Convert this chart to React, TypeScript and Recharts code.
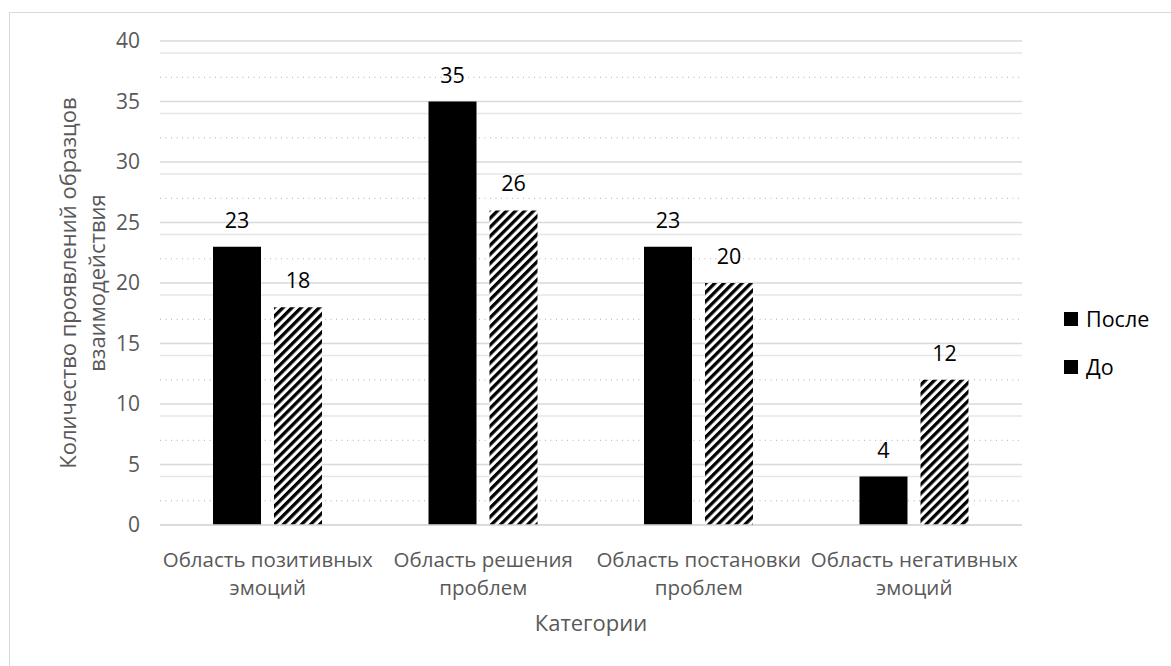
import { Bar, BarChart, CartesianGrid, LabelList, XAxis, YAxis } from "recharts";

const categoryLine1 = ["Область позитивных", "Область решения", "Область постановки", "Область негативных"];
const categoryLine2 = ["эмоций", "проблем", "проблем", "эмоций"];
const afterValues = [23, 35, 23, 4];
const beforeValues = [18, 26, 20, 12];
const yTicks = [0, 5, 10, 15, 20, 25, 30, 35, 40];
const minorSolid = [3, 4, 8, 9, 13, 14, 18, 19, 23, 24, 28, 29, 33, 34, 38, 39];
const minorDotted = [1, 2, 6, 7, 11, 12, 16, 17, 21, 22, 26, 27, 31, 32, 36, 37];

const data = categoryLine1.map((c, i) => ({
  name: c + " " + categoryLine2[i],
  after: afterValues[i],
  before: beforeValues[i],
}));

const FONT = "'Open Sans', sans-serif";
const GRAY = "#595959";

const CategoryTick = (props: any) => {
  const { x, y, index } = props;
  return (
    <text x={x} y={y} textAnchor="middle" fill={GRAY} fontSize={20.5} fontFamily={FONT}>
      <tspan x={x} dy={34}>{categoryLine1[index]}</tspan>
      <tspan x={x} dy={28}>{categoryLine2[index]}</tspan>
    </text>
  );
};

const YTitle = () => {
  const cx = 76;
  const cy = 283;
  return (
    <text transform={`rotate(-90, ${cx}, ${cy})`} x={cx} y={cy} textAnchor="middle" fill={GRAY} fontSize={22} fontFamily={FONT}>
      <tspan x={cx} dy={0}>Количество проявлений образцов</tspan>
      <tspan x={cx} dy={29}>взаимодействия</tspan>
    </text>
  );
};

export default function App() {
  return (
    <div style={{ position: "fixed", left: 0, top: 0, width: 1171, height: 666, overflow: "hidden", background: "#fff", fontFamily: FONT }}>
      <div style={{ position: "absolute", left: 9, top: 12, width: 1200, height: 700, border: "1px solid #d9d9d9" }} />
      <div style={{ position: "absolute", left: 0, top: 0 }}>
        <BarChart
          width={1171}
          height={666}
          data={data}
          margin={{ top: 41, right: 149, bottom: 0, left: 0 }}
          barSize={48}
          barGap={13}
        >
          <defs>
            <pattern id="hatch" width="6.4" height="6.4" patternUnits="userSpaceOnUse" patternTransform="rotate(45)">
              <rect x="0" y="0" width="6.4" height="6.4" fill="#fff" />
              <rect x="0" y="0" width="3.3" height="6.4" fill="#000" />
            </pattern>
          </defs>
          <CartesianGrid vertical={false} horizontalValues={minorSolid} stroke="#e6e6e6" strokeWidth={1.5} />
          <CartesianGrid vertical={false} horizontalValues={minorDotted} stroke="#b0b0b0" strokeDasharray="1 4.5" />
          <CartesianGrid vertical={false} horizontalValues={yTicks} stroke="#d9d9d9" strokeWidth={1.5} />
          <XAxis
            dataKey="name"
            height={141}
            axisLine={{ stroke: "#d9d9d9", strokeWidth: 1.5 }}
            tickLine={false}
            tick={<CategoryTick />}
            interval={0}
            label={{ value: "Категории", position: "insideBottom", offset: 35, fill: GRAY, fontSize: 22, fontFamily: FONT }}
          />
          <YAxis
            width={160}
            domain={[0, 40]}
            ticks={yTicks}
            axisLine={false}
            tickLine={false}
            tickSize={0}
            tickMargin={20}
            tick={{ fill: GRAY, fontSize: 21, fontFamily: FONT }}
            label={{ content: <YTitle /> }}
          />
          <Bar dataKey="after" fill="#000" isAnimationActive={false}>
            <LabelList dataKey="after" position="top" offset={19} fill="#000" fontSize={21.5} fontFamily={FONT} />
          </Bar>
          <Bar dataKey="before" fill="url(#hatch)" isAnimationActive={false}>
            <LabelList dataKey="before" position="top" offset={19} fill="#000" fontSize={21.5} fontFamily={FONT} />
          </Bar>
        </BarChart>
      </div>
      {[
        { label: "После", top: 305 },
        { label: "До", top: 353 },
      ].map((l) => (
        <div key={l.label} style={{ position: "absolute", left: 1064, top: l.top, display: "flex", alignItems: "center", fontSize: 21.5, color: "#000", lineHeight: "28px" }}>
          <span style={{ width: 14, height: 14, background: "#000", marginRight: 8, display: "inline-block" }} />
          {l.label}
        </div>
      ))}
    </div>
  );
}
